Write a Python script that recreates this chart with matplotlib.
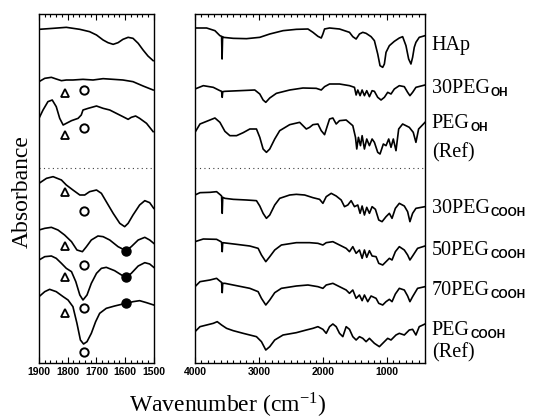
import numpy as np
import matplotlib
matplotlib.use('Agg')
import matplotlib.pyplot as plt
from matplotlib.ticker import MultipleLocator
from matplotlib.transforms import blended_transform_factory

# ---- data (wavenumber in cm-1, relative absorbance in arbitrary units) ----
# full range 4000-400 cm-1
hap_wn = [4000, 3818, 3688, 3610, 3584, 3576, 3568, 3558, 3402, 3194, 2986, 2830, 2622, 2414, 2232,
          2154, 2076, 2024, 1998, 1972, 1894, 1738, 1582, 1530, 1478, 1426, 1374, 1322, 1244, 1192,
          1140, 1104, 1062, 1036, 1010, 958, 880, 802, 750, 698, 656, 620, 594, 568, 542, 490, 400]
hap_a = [0, 0, -8, -23, -25, -93, -26, -28, -31, -32, -28, -18, -8, -4, -3,
         -13, -25, -30, -18, -3, 0, -3, -13, -26, -33, -18, -13, -16, -26, -38,
         -78, -113, -118, -108, -73, -53, -40, -30, -26, -53, -93, -108, -88, -58, -43, -28, -23]

peg30oh_wn = [4000, 3870, 3714, 3610, 3584, 3574, 3566, 3532, 3298, 3064, 2986, 2934, 2892, 2830, 2726,
              2518, 2310, 2102, 2024, 1972, 1894, 1738, 1582, 1504, 1478, 1452, 1416, 1384, 1348, 1312,
              1270, 1228, 1192, 1140, 1088, 1036, 984, 932, 880, 802, 724, 672, 636, 594, 542, 400]
peg30oh_a = [0, 10, 5, -5, -7, -25, -8, -7, -5, -3, -15, -33, -40, -27, -13,
             -3, 3, 2, -3, 7, 15, 15, 10, 5, -18, -3, -20, -3, -20, -5,
             -23, -5, -7, -25, -33, -25, -10, -15, 0, 10, 7, -10, -20, -10, 5, 12]

pegoh_wn = [4000, 3922, 3818, 3688, 3610, 3532, 3454, 3350, 3246, 3142, 3038, 2986, 2934, 2882, 2830,
            2752, 2674, 2518, 2362, 2258, 2206, 2154, 2076, 2024, 1972, 1936, 1894, 1842, 1790, 1738,
            1634, 1530, 1488, 1468, 1442, 1410, 1384, 1348, 1312, 1270, 1228, 1192, 1140, 1104, 1052,
            1010, 968, 932, 896, 854, 812, 750, 646, 584, 542, 500, 400]
pegoh_a = [0, 25, 33, 43, 30, 3, -10, -10, -1, 10, 10, -15, -50, -60, -50,
           -20, 5, 23, 30, 10, 15, 23, 25, 5, -7, 15, 40, 43, 25, 35,
           37, 20, -15, -50, -15, -40, -10, -50, -20, -40, -20, -30, -60, -65, -35,
           -40, -20, -45, -20, -55, 10, 25, 15, 0, -30, 10, 30]

peg30cooh_wn = [4000, 3922, 3766, 3662, 3600, 3584, 3574, 3566, 3532, 3402, 3194, 3038, 2986, 2934, 2882,
                2830, 2752, 2674, 2518, 2414, 2284, 2154, 2050, 1998, 1946, 1868, 1790, 1712, 1660, 1608,
                1556, 1504, 1452, 1416, 1384, 1348, 1312, 1270, 1228, 1176, 1124, 1072, 1010, 958, 916,
                864, 802, 724, 672, 636, 594, 542, 400]
peg30cooh_a = [0, 7, 8, 10, 0, -3, -55, -7, -10, -13, -15, -17, -33, -55, -70,
               -60, -30, -10, 0, 2, 0, -8, -13, -25, -5, 5, -3, -15, -35, -30,
               -17, -35, -30, -55, -33, -60, -37, -55, -35, -43, -75, -80, -65, -55, -70,
               -40, -25, -33, -50, -80, -55, -40, -35]

peg50cooh_wn = [4000, 3870, 3662, 3594, 3584, 3574, 3566, 3350, 3142, 3012, 2960, 2892, 2830, 2752, 2648,
                2414, 2206, 2076, 1998, 1946, 1842, 1738, 1634, 1582, 1530, 1478, 1426, 1384, 1348, 1312,
                1270, 1228, 1166, 1124, 1062, 1010, 958, 916, 864, 802, 724, 672, 636, 594, 516, 400]
peg50cooh_a = [0, 8, 7, 0, -2, -30, -3, -8, -13, -20, -40, -60, -45, -25, -10,
               -3, -3, -5, -10, -3, 0, -10, -20, -30, -15, -35, -25, -50, -25, -47,
               -27, -43, -45, -65, -70, -60, -50, -55, -30, -15, -25, -40, -55, -43, -20, -13]

peg70cooh_wn = [4000, 3922, 3766, 3662, 3600, 3584, 3574, 3566, 3532, 3350, 3142, 3012, 2960, 2892, 2830,
                2752, 2648, 2414, 2232, 2076, 1998, 1946, 1842, 1738, 1634, 1582, 1530, 1478, 1426, 1384,
                1348, 1296, 1244, 1166, 1124, 1062, 1010, 958, 916, 864, 802, 724, 672, 636, 594, 516, 400]
peg70cooh_a = [0, 15, 20, 25, 15, 13, -18, 10, 10, 3, -5, -15, -35, -55, -40,
               -18, -5, 2, 5, 0, -5, 5, 10, 0, -10, -20, -10, -35, -25, -42,
               -25, -45, -28, -35, -50, -55, -45, -38, -45, -22, -5, -10, -28, -45, -30, -5, 0]

pegcooh_wn = [4000, 3922, 3818, 3714, 3652, 3584, 3506, 3402, 3246, 3038, 2960, 2892, 2830, 2752, 2622,
              2414, 2258, 2154, 2076, 1998, 1946, 1894, 1842, 1790, 1738, 1686, 1634, 1582, 1530, 1478,
              1426, 1374, 1322, 1270, 1192, 1114, 1062, 984, 932, 854, 802, 724, 646, 594, 542, 490, 400]
pegcooh_a = [0, 15, 20, 25, 30, 20, 10, 3, -5, -15, -30, -55, -45, -25, -10,
             -3, 5, 10, 15, 7, -5, 15, 23, 15, -5, -15, 15, 7, -15, -25,
             -15, -20, -30, -20, -35, -45, -35, -20, -25, -10, -5, -10, 5, 7, -10, 15, 23]

# expanded 1900-1500 cm-1 region
z_hap_wn = [1900, 1851, 1805, 1758, 1724, 1700, 1677, 1660, 1642, 1625, 1608, 1590, 1573, 1555, 1538, 1521, 1503]
z_hap_a = [0, 3, 6, 0, -7, -17, -32, -40, -45, -40, -30, -24, -27, -42, -62, -80, -94]

z_peg30oh_wn = [1900, 1880, 1857, 1840, 1822, 1805, 1782, 1747, 1712, 1677, 1642, 1608, 1573, 1538, 1503]
z_peg30oh_a = [0, 10, 13, 8, 3, 5, 5, 7, 5, 9, 7, 5, 0, -13, -25]

z_pegoh_wn = [1900, 1886, 1869, 1854, 1840, 1828, 1816, 1805, 1787, 1764, 1753, 1747, 1729, 1700, 1677,
              1654, 1631, 1608, 1590, 1579, 1564, 1550, 1526, 1503]
z_pegoh_a = [0, 25, 50, 55, 35, 0, -20, -15, -7, 0, 10, 25, 30, 37, 30,
             25, 15, 5, -3, 3, 7, 0, -15, -40]

z_peg30cooh_wn = [1900, 1874, 1851, 1822, 1805, 1782, 1758, 1741, 1724, 1700, 1683, 1666, 1642, 1619, 1602,
                  1590, 1573, 1550, 1532, 1515, 1501]
z_peg30cooh_a = [0, 15, 20, 10, -5, -20, -35, -35, -25, -20, -30, -55, -90, -120, -130,
                 -120, -95, -65, -52, -58, -75]

z_peg50cooh_wn = [1900, 1880, 1857, 1834, 1811, 1787, 1768, 1749, 1735, 1718, 1695, 1677, 1654, 1625, 1598,
                  1579, 1555, 1532, 1515, 1501]
z_peg50cooh_a = [0, 5, 8, 0, -15, -35, -60, -65, -50, -30, -18, -20, -30, -50, -62,
                 -50, -30, -22, -30, -40]

z_peg70cooh_wn = [1900, 1880, 1857, 1840, 1822, 1805, 1787, 1772, 1758, 1747, 1733, 1718, 1700, 1683, 1666,
                  1637, 1613, 1596, 1579, 1555, 1532, 1515, 1501]
z_peg70cooh_a = [0, 10, 12, 5, -10, -25, -35, -65, -105, -120, -105, -70, -40, -25, -22,
                 -32, -45, -52, -40, -18, -8, -12, -22]

z_pegcooh_wn = [1900, 1880, 1863, 1840, 1816, 1799, 1782, 1768, 1756, 1745, 1733, 1718, 1703, 1689, 1666,
                1637, 1613, 1596, 1573, 1550, 1526, 1501]
z_pegcooh_a = [0, 15, 22, 15, 0, -10, -30, -80, -130, -142, -135, -110, -75, -50, -35,
               -28, -23, -20, -15, -12, -18, -25]

sample_main = ['HAp', '30PEG', 'PEG', '30PEG', '50PEG', '70PEG', 'PEG']
sample_sub = ['', 'OH', 'OH', 'COOH', 'COOH', 'COOH', 'COOH']
sample_ref = [False, False, True, False, False, False, True]

# band markers in the expanded region (cm-1)
band_triangle = 1810
band_circle = 1745
band_filled = 1598

full_wn = [hap_wn, peg30oh_wn, pegoh_wn, peg30cooh_wn, peg50cooh_wn, peg70cooh_wn, pegcooh_wn]
full_a = [hap_a, peg30oh_a, pegoh_a, peg30cooh_a, peg50cooh_a, peg70cooh_a, pegcooh_a]
zoom_wn = [z_hap_wn, z_peg30oh_wn, z_pegoh_wn, z_peg30cooh_wn, z_peg50cooh_wn, z_peg70cooh_wn, z_pegcooh_wn]
zoom_a = [z_hap_a, z_peg30oh_a, z_pegoh_a, z_peg30cooh_a, z_peg50cooh_a, z_peg70cooh_a, z_pegcooh_a]

# ---- layout (stacking offsets and annotation placement) ----
full_offset = [1005, 822, 692, 504, 364, 229, 94]
zoom_offset = [1001, 844, 734, 539, 399, 309, 199]
tri_dy = [None, -35, -50, -25, -48, -50, -50]
circ_dy = [None, -25, -30, -82, -105, -145, -165]
has_filled = [False, False, False, False, True, True, True]
label_y = [939, 810, 705, 450, 324, 204, 84]
ref_y = [None, None, 618, None, None, None, 18]
divider_y = 585

plt.rcParams['font.family'] = ['Liberation Serif', 'DejaVu Serif']
plt.rcParams['mathtext.fontset'] = 'stix'

W, H = 533, 419
fig = plt.figure(figsize=(W / 100, H / 100), dpi=100)
ax_z = fig.add_axes([39 / W, 56 / H, 115 / W, 349 / H])
ax_f = fig.add_axes([195 / W, 56 / H, 230 / W, 349 / H])

lw = 1.2
for i in range(7):
    ax_f.plot(full_wn[i], np.array(full_a[i]) + full_offset[i], color='black', lw=lw)
    ax_z.plot(zoom_wn[i], np.array(zoom_a[i]) + zoom_offset[i], color='black', lw=lw)
    if tri_dy[i] is not None:
        ax_z.plot(band_triangle, zoom_offset[i] + tri_dy[i], marker='^', ms=6, mfc='white',
                  mec='black', mew=1.3, ls='none')
        ax_z.plot(band_circle, zoom_offset[i] + circ_dy[i], marker='o', ms=6, mfc='white',
                  mec='black', mew=1.4, ls='none', clip_on=False)
    if has_filled[i]:
        yv = np.interp(band_filled, zoom_wn[i][::-1], zoom_a[i][::-1]) + zoom_offset[i]
        ax_z.plot(band_filled, yv, marker='o', ms=6.5, color='black', ls='none')

for ax in (ax_z, ax_f):
    ax.set_ylim(0, 1047)
    ax.axhline(divider_y, ls=(0, (1, 3)), lw=0.8, color='0.25')
    ax.set_yticks([])
    ax.tick_params(axis='x', which='both', direction='in', top=True, bottom=True,
                   labelsize=7.5, pad=3, width=0.8)
    ax.tick_params(axis='x', which='major', length=4)
    ax.tick_params(axis='x', which='minor', length=2.5)
    for s in ax.spines.values():
        s.set_linewidth(1.0)

ax_z.set_xlim(1900, 1500)
ax_z.set_xticks([1900, 1800, 1700, 1600, 1500])
ax_z.xaxis.set_minor_locator(MultipleLocator(20))
ax_f.set_xlim(4000, 400)
ax_f.set_xticks([4000, 3000, 2000, 1000])
ax_f.xaxis.set_minor_locator(MultipleLocator(100))

for ax in (ax_z, ax_f):
    for lab in ax.get_xticklabels():
        lab.set_fontfamily('Liberation Sans')
        lab.set_fontweight('bold')

# sample labels to the right
trans = blended_transform_factory(ax_f.transAxes, ax_f.transData)
for i in range(7):
    t = ax_f.text(1.03, label_y[i], sample_main[i], transform=trans, fontsize=14.5,
                  va='baseline', ha='left')
    if sample_sub[i]:
        ax_f.annotate(sample_sub[i], xy=(1, 0), xycoords=t, xytext=(0.5, -0.5),
                      textcoords='offset points', fontsize=8.5, family='Liberation Sans',
                      fontweight='bold', va='bottom', ha='left')
    if sample_ref[i]:
        ax_f.text(1.03, ref_y[i], '(Ref)', transform=trans, fontsize=14.5,
                  va='baseline', ha='left')

fig.text(22 / W, 1 - 192 / H, 'Absorbance', rotation=90, fontsize=17, va='center', ha='center')
fig.text(228 / W, 6 / H, r'Wavenumber (cm$^{\mathregular{-1}}$)', fontsize=17, va='baseline', ha='center')

fig.savefig('out.png', dpi=100)
